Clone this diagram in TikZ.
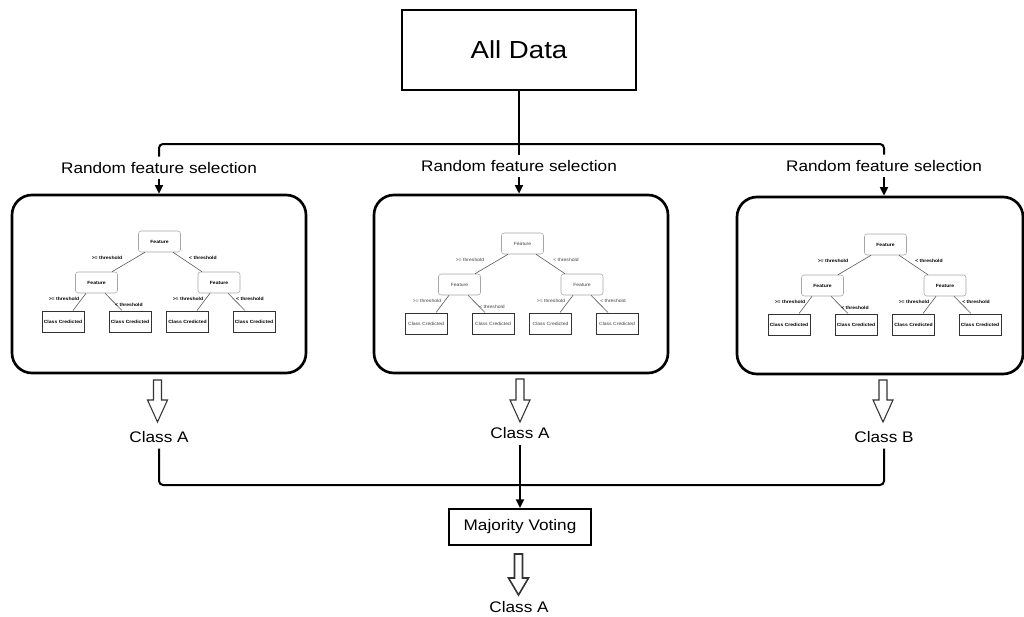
\documentclass[tikz,border=0pt]{standalone}
\usepackage{fontspec}
\setmainfont{Liberation Sans}[FakeStretch=1.12]
\usetikzlibrary{arrows.meta,calc}

\tikzset{
  conn/.style={line width=1.5pt, black},
  tip/.style={-{Triangle[length=6.5pt,width=6pt]}},
  topbox/.style={draw, line width=1.5pt, minimum width=175.5pt, minimum height=60pt,
    font=\fontsize{18.5}{22}\selectfont},
  forest/.style={draw, line width=2pt, rounded corners=15pt,
    minimum width=220.5pt, minimum height=133.5pt},
  lbl/.style={font=\fontsize{11.5}{14}\selectfont, inner sep=4.2pt},
  votebox/.style={draw, line width=1.5pt, minimum width=106.5pt, minimum height=27pt,
    font=\fontsize{11.5}{14}\selectfont},
  harr/.style={draw=black!80, line width=0.8pt, fill=white},
  treefont/.style={},
  feat/.style={draw=gray!70, line width=0.4pt, rounded corners=2pt, fill=white,
    minimum width=31.5pt, minimum height=15.75pt, inner sep=0pt, treefont},
  leaf/.style={draw=black!80, line width=0.75pt, fill=white,
    minimum width=31.5pt, minimum height=15.75pt, inner sep=0pt, treefont},
  tlab/.style={inner sep=0pt, treefont},
  tedge/.style={draw=gray!70!black, line width=0.45pt},
  boldtree/.style={font=\fontsize{3.4}{4}\selectfont\bfseries},
  plaintree/.style={font=\fontsize{3.4}{4}\selectfont, text=black!75},
}

% one decision tree, drawn relative to the top-left corner of its frame
\newcommand\dtree[4]{%
  \begin{scope}[shift={(#2,#3)}, treefont/.style={#4}]
    \node[feat] (#1r) at (147.5,46.5) {Feature};
    \node[feat] (#1a) at (84.5,87.5) {Feature};
    \node[feat] (#1b) at (207,87.5) {Feature};
    \node[leaf] (#1l1) at (51,126.5) {Class Credicted};
    \node[leaf] (#1l2) at (118,126.5) {Class Credicted};
    \node[leaf] (#1l3) at (175.5,126.5) {Class Credicted};
    \node[leaf] (#1l4) at (242,126.5) {Class Credicted};
    \draw[tedge] ($(#1r.south)+(-14.5,0)$) -- ($(#1a.north)+(15.5,0)$);
    \draw[tedge] ($(#1r.south)+(13.5,0)$) -- ($(#1b.north)+(-17,0)$);
    \draw[tedge] ($(#1a.south)+(-10.5,0)$) -- ($(#1l1.north)+(10,0)$);
    \draw[tedge] ($(#1a.south)+(8.5,0)$) -- ($(#1l2.north)+(-8,0)$);
    \draw[tedge] ($(#1b.south)+(-9,0)$) -- ($(#1l3.north)+(9.5,0)$);
    \draw[tedge] ($(#1b.south)+(9,0)$) -- ($(#1l4.north)+(-9,0)$);
    \node[tlab] (#1t1) at (95,63) {>= threshold};
    \node[tlab] (#1t2) at (191,63) {< threshold};
    \node[tlab] (#1t3) at (52,104) {>= threshold};
    \node[tlab] (#1t4) at (117,110) {< threshold};
    \node[tlab] (#1t5) at (176,104) {>= threshold};
    \node[tlab] (#1t6) at (238,104) {< threshold};
  \end{scope}}

% hollow block arrow: [style] x, top, head start, tip
\newcommand\harrow[5][]{%
  \draw[harr,#1] (#2-4,#3) -- (#2+4,#3) -- (#2+4,#4) -- (#2+10,#4) -- (#2,#5)
    -- (#2-10,#4) -- (#2-4,#4) -- cycle;}

\begin{document}
\begin{tikzpicture}[x=0.75pt,y=-0.75pt]
\useasboundingbox (0,0) rectangle (1024,617);

% data source and split
\node[topbox] (all) at (519,50) {All Data};
\node[lbl] (rfs1) at (159,168) {Random feature selection};
\node[lbl] (rfs2) at (519,166) {Random feature selection};
\node[lbl] (rfs3) at (884,166) {Random feature selection};
\coordinate (split) at (519,144);

\draw[conn] (all) -- (rfs2);
\draw[conn, rounded corners=3pt] (rfs1.north) |- (split) -| (rfs3.north);

% three random trees
\node[forest] (f1) at (159,284) {};
\node[forest] (f2) at (521,284) {};
\node[forest, minimum width=214.5pt, minimum height=132.75pt] (f3) at (880,285.5) {};

\draw[conn, tip] (rfs1) -- (rfs1 |- f1.north);
\draw[conn, tip] (rfs2) -- (rfs2 |- f2.north);
\draw[conn, tip] (rfs3) -- (rfs3 |- f3.north);

\dtree{A}{12}{195}{boldtree}
\dtree{B}{375}{197}{plaintree}
\dtree{C}{738}{198}{boldtree}

% predictions of each tree
\harrow{157.5}{380}{400}{422}
\harrow{520}{379}{400}{422}
\harrow{883}{380}{400}{422}

\node[lbl] (c1) at (159,437) {Class A};
\node[lbl] (c2) at (520,433) {Class A};
\node[lbl] (c3) at (884,437) {Class B};
\coordinate (join) at (520,485);

\draw[conn, rounded corners=3pt] (c1) |- (join) -| (c3);

% aggregation
\node[votebox] (mv) at (520,527) {Majority Voting};
\draw[conn, tip] (c2) -- (mv);

\harrow[line width=1.2pt]{518.5}{554}{578}{595}
\node[lbl] (final) at (519,607) {Class A};
\end{tikzpicture}
\end{document}
